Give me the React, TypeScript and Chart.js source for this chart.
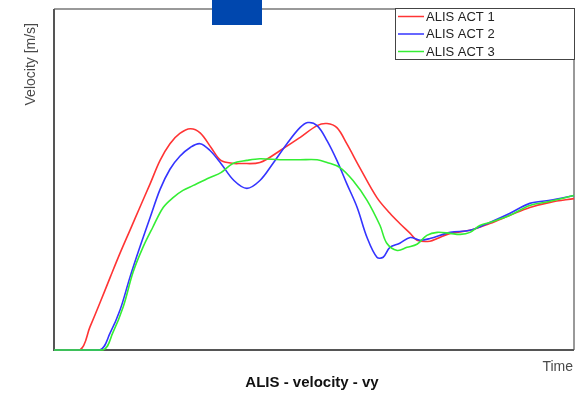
import React, { useEffect, useRef } from "react";
import { Chart, registerables } from "chart.js";

Chart.register(...registerables);

const seriesLabels = ["ALIS ACT 1", "ALIS ACT 2", "ALIS ACT 3"];
const seriesColors = ["#ff3434", "#3434ff", "#34ee34"];

const act1Time = [0, 5.0, 6.9, 8.8, 10.8, 12.7, 14.6, 16.5, 18.5, 20.4, 22.3, 24.2, 26.2, 28.1, 30.2, 32.1, 34.6, 35.8, 39.6, 43.5, 47.3, 50.6, 52.5, 54.4, 56.3, 58.8, 62.1, 64.6, 66.5, 68.5, 69.8, 72.3, 73.7, 76.2, 80.0, 83.8, 87.7, 91.5, 95.4, 100];
const act1Vel = [0, 0, 6.7, 13.7, 21.3, 28.4, 35.1, 41.8, 48.8, 55.6, 60.5, 63.5, 64.9, 63.7, 59.4, 55.6, 54.7, 54.7, 55.0, 58.5, 62.3, 65.8, 66.4, 65.2, 60.5, 53.5, 44.7, 40.1, 37.1, 34.2, 32.2, 31.9, 32.7, 34.2, 35.1, 37.1, 39.5, 41.8, 43.3, 44.4];

const act2Time = [0, 8.8, 10.8, 12.7, 14.6, 16.5, 18.5, 20.4, 22.3, 24.2, 26.2, 28.1, 30.0, 32.1, 34.6, 37.1, 39.6, 42.1, 44.8, 47.3, 48.8, 50.6, 52.5, 54.4, 56.3, 58.3, 60.2, 62.1, 63.3, 64.6, 66.5, 68.5, 70.4, 72.3, 76.2, 80.0, 83.8, 87.7, 91.5, 95.4, 100];
const act2Vel = [0, 0, 5.0, 11.7, 21.3, 30.1, 38.9, 47.1, 53.0, 56.8, 59.4, 60.5, 58.5, 54.7, 49.7, 47.4, 49.7, 54.7, 60.5, 65.2, 66.7, 65.8, 61.4, 55.6, 48.8, 41.8, 33.0, 27.2, 27.2, 30.1, 31.3, 33.0, 32.2, 32.7, 34.5, 35.1, 37.4, 40.1, 43.0, 43.9, 45.3];

const act3Time = [0, 9.4, 11.3, 13.3, 15.2, 17.1, 19.0, 21.0, 22.9, 24.8, 26.7, 30.0, 32.1, 34.4, 37.1, 39.6, 43.5, 47.3, 50.6, 52.5, 55.0, 57.5, 60.2, 62.7, 64.0, 66.0, 67.9, 69.8, 71.7, 73.7, 76.2, 78.1, 80.0, 81.9, 83.8, 87.7, 91.5, 95.4, 100];
const act3Vel = [0, 0, 5.0, 12.6, 22.8, 30.1, 36.0, 41.8, 44.7, 46.8, 48.2, 50.6, 52.0, 54.7, 55.6, 56.1, 55.8, 55.8, 55.8, 55.0, 53.5, 49.7, 43.9, 36.5, 31.3, 29.2, 30.1, 31.0, 33.6, 34.5, 34.2, 33.9, 34.5, 36.5, 37.4, 39.5, 42.4, 43.6, 45.3];

const chartTitle = "ALIS - velocity - vy";
const yTitle = "Velocity [m/s]";
const xTitle = "Time";

function toPoints(xs: number[], ys: number[]) {
  return xs.map((x, i) => ({ x, y: ys[i] }));
}

const decorPlugin = {
  id: "decor",
  beforeDatasetsDraw(chart: any) {
    const { ctx, chartArea } = chart;
    const { left, right, top, bottom } = chartArea;
    ctx.save();
    ctx.lineWidth = 2;
    ctx.strokeStyle = "#999999";
    ctx.beginPath();
    ctx.moveTo(left, top);
    ctx.lineTo(right, top);
    ctx.lineTo(right, bottom);
    ctx.stroke();
    ctx.strokeStyle = "#555555";
    ctx.beginPath();
    ctx.moveTo(left, top);
    ctx.lineTo(left, bottom);
    ctx.lineTo(right, bottom);
    ctx.stroke();
    ctx.fillStyle = "#0047ae";
    ctx.fillRect(212, 0, 50, 25);
    ctx.restore();
  },
  afterDatasetsDraw(chart: any) {
    const { ctx } = chart;
    ctx.save();
    // legend box
    const lx = 395, ly = 8, lw = 179, lh = 51;
    ctx.fillStyle = "#ffffff";
    ctx.fillRect(lx, ly, lw, lh);
    ctx.lineWidth = 1;
    ctx.strokeStyle = "#444444";
    ctx.strokeRect(lx + 0.5, ly + 0.5, lw, lh);
    ctx.font = "13px 'Liberation Sans', Arial, sans-serif";
    ctx.textBaseline = "middle";
    ctx.textAlign = "left";
    chart.data.datasets.forEach((ds: any, i: number) => {
      const yy = 16.5 + i * 17.5;
      ctx.strokeStyle = ds.borderColor;
      ctx.lineWidth = 1.5;
      ctx.beginPath();
      ctx.moveTo(398, yy);
      ctx.lineTo(424, yy);
      ctx.stroke();
      ctx.fillStyle = "#222222";
      ctx.fillText(ds.label, 426, yy + 0.5);
    });

    // axis titles
    ctx.fillStyle = "#4a4a4a";
    ctx.font = "14px 'Liberation Sans', Arial, sans-serif";
    ctx.textAlign = "right";
    ctx.textBaseline = "alphabetic";
    ctx.fillText(xTitle, 573, 371);
    ctx.save();
    ctx.translate(35, 23);
    ctx.rotate(-Math.PI / 2);
    ctx.textAlign = "right";
    ctx.textBaseline = "alphabetic";
    ctx.fillText(yTitle, 0, 0);
    ctx.restore();

    // chart title
    ctx.fillStyle = "#111111";
    ctx.font = "bold 15px 'Liberation Sans', Arial, sans-serif";
    ctx.textAlign = "center";
    ctx.fillText(chartTitle, 312, 387);
    ctx.restore();
  },
};

export default function App() {
  const canvasRef = useRef<HTMLCanvasElement | null>(null);
  useEffect(() => {
    document.body.style.margin = "0";
    const canvas = canvasRef.current;
    if (!canvas) return;
    const datasets = [
      { times: act1Time, vels: act1Vel },
      { times: act2Time, vels: act2Vel },
      { times: act3Time, vels: act3Vel },
    ].map((s, i) => ({
      label: seriesLabels[i],
      data: toPoints(s.times, s.vels),
      borderColor: seriesColors[i],
      backgroundColor: seriesColors[i],
      borderWidth: 1.6,
      pointRadius: 0,
      tension: 0.35,
      fill: false,
      clip: { left: 2, right: 2, top: 2, bottom: 1 },
      order: 3 - i,
    }));
    const chart = new Chart(canvas, {
      type: "line",
      data: { datasets },
      options: {
        animation: false,
        responsive: false,
        maintainAspectRatio: false,
        layout: { padding: { left: 54, right: 3, top: 9, bottom: 48 } },
        plugins: {
          legend: { display: false },
          title: { display: false },
          tooltip: { enabled: false },
        },
        scales: {
          x: { type: "linear", min: 0, max: 100, display: false },
          y: { type: "linear", min: 0, max: 100, display: false },
        },
      },
      plugins: [decorPlugin],
    });
    return () => chart.destroy();
  }, []);
  return (
    <div style={{ position: "absolute", left: 0, top: 0, width: 577, height: 398, background: "#fff" }}>
      <canvas ref={canvasRef} width={577} height={398} style={{ width: 577, height: 398 }} />
    </div>
  );
}
